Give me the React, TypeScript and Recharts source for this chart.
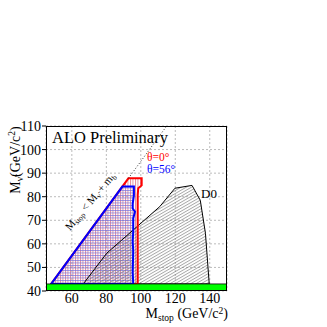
import React from "react";
import {
  ComposedChart,
  XAxis,
  YAxis,
  CartesianGrid,
  Scatter,
  Customized,
} from "recharts";

// axis ticks (GeV/c^2)
const xTicks = [60, 80, 100, 120, 140];
const yTicks = [40, 50, 60, 70, 80, 90, 100, 110];

// excluded regions, points are [M_stop, M_sneutrino]
const theta0Region: [number, number][] = [
  [48, 43], [92.8, 87.8], [100.5, 87.8], [100.5, 84.8],
  [98.5, 83.6], [98.2, 80.7], [98.2, 43],
];
const theta56Region: [number, number][] = [
  [48, 43], [89.3, 84.3], [96, 84.3], [96, 80.7], [95.3, 77],
  [95.3, 75], [96.6, 73.6], [95.6, 70.8], [95.6, 65], [95.3, 61],
  [95.6, 57], [95.3, 48], [95.6, 43],
];
const d0Region: [number, number][] = [
  [66.6, 43], [80.2, 56], [111, 75.8], [119.8, 83.6], [129.7, 84.8],
  [134.5, 78.5], [137.5, 64.5], [139.7, 43],
];
// M_stop = M_snu + m_b
const kinematicLimit: [number, number][] = [[92.8, 87.8], [115, 110]];
const lepBand: [number, number][] = [[45, 40], [150, 40], [150, 43], [45, 43]];
const frame: [number, number][] = [[45, 40], [150, 40], [150, 110], [45, 110]];

const serif = "'Liberation Serif', 'Times New Roman', serif";

const toPoints = (pts: [number, number][]) => pts.map(([x, y]) => ({ x, y }));

const poly =
  (fill: string, stroke: string, strokeWidth: number, closed = true, dash?: string) =>
  (props: any) => {
    const pts: { x: number; y: number }[] = props.points || [];
    const d =
      pts.map((p, i) => `${i ? "L" : "M"}${p.x},${p.y}`).join("") + (closed ? "Z" : "");
    return (
      <path
        d={d}
        fill={fill}
        stroke={stroke}
        strokeWidth={strokeWidth}
        strokeDasharray={dash}
        strokeLinejoin="miter"
      />
    );
  };

const noDot = () => <g />;

const Overlay = () => (
  <g fontFamily={serif}>
    <defs>
      <pattern id="redVert" width="2.5" height="2.5" patternUnits="userSpaceOnUse">
        <line x1="0.5" y1="0" x2="0.5" y2="2.5" stroke="#e06070" strokeWidth="0.7" />
      </pattern>
      <pattern id="blueHoriz" width="2.5" height="2.5" patternUnits="userSpaceOnUse">
        <line x1="0" y1="0.5" x2="2.5" y2="0.5" stroke="#7070e0" strokeWidth="0.7" />
      </pattern>
      <pattern
        id="d0Hatch"
        width="2.6"
        height="2.6"
        patternUnits="userSpaceOnUse"
        patternTransform="rotate(-30)"
      >
        <line x1="0" y1="0.5" x2="2.6" y2="0.5" stroke="#777" strokeWidth="0.6" />
      </pattern>
    </defs>
    <text x={52} y={143} fontSize={16.5}>ALO Preliminary</text>
    <text x={147} y={161} fontSize={11.5} fill="#ff0000">θ=0°</text>
    <text x={147} y={172.5} fontSize={11.5} fill="#0000ff">θ=56°</text>
    <text x={201} y={198} fontSize={13}>D0</text>
    <text transform="translate(70,231) rotate(-50)" fontSize={11}>
      M<tspan fontSize={7.5} dy={2}>stop</tspan>
      <tspan dy={-2}> &lt; M</tspan>
      <tspan fontSize={7.5} dy={2}>ν̃</tspan>
      <tspan dy={-2}> + m</tspan>
      <tspan fontSize={7.5} dy={2}>b</tspan>
    </text>
    <text transform="translate(20,160) rotate(-90)" fontSize={14} textAnchor="middle">
      M<tspan fontSize={9.5} dy={3}>ν̃</tspan>
      <tspan dy={-3}>(GeV/c</tspan>
      <tspan fontSize={9.5} dy={-5}>2</tspan>
      <tspan dy={5}>)</tspan>
    </text>
    <text x={228} y={318} fontSize={14} textAnchor="end">
      M<tspan fontSize={9.5} dy={3}>stop</tspan>
      <tspan dy={-3}> (GeV/c</tspan>
      <tspan fontSize={9.5} dy={-4}>2</tspan>
      <tspan dy={4}>)</tspan>
    </text>
  </g>
);

export default function App() {
  return (
    <div style={{ position: "absolute", left: 0, top: 0, background: "#fff" }}>
      <ComposedChart
        width={327}
        height={327}
        margin={{ top: 126, right: 100, bottom: 6, left: 6 }}
      >
        <CartesianGrid stroke="#bbb" strokeDasharray="2 2" />
        <XAxis
          type="number"
          dataKey="x"
          domain={[45, 150]}
          ticks={xTicks}
          allowDataOverflow
          axisLine={false}
          tickLine={false}
          tickSize={0}
          tickMargin={2}
          height={30}
          tick={{ fontFamily: serif, fontSize: 14, fill: "#000" }}
        />
        <YAxis
          type="number"
          dataKey="y"
          domain={[40, 110]}
          ticks={yTicks}
          allowDataOverflow
          axisLine={false}
          tickLine={{ stroke: "#000" }}
          tickSize={4}
          tickMargin={1}
          width={40}
          tick={{ fontFamily: serif, fontSize: 14, fill: "#000" }}
        />
        <Scatter data={toPoints(theta0Region)} shape={noDot} line={poly("url(#redVert)", "none", 0)} isAnimationActive={false} />
        <Scatter data={toPoints(theta56Region)} shape={noDot} line={poly("url(#blueHoriz)", "none", 0)} isAnimationActive={false} />
        <Scatter data={toPoints(d0Region)} shape={noDot} line={poly("url(#d0Hatch)", "#000", 1)} isAnimationActive={false} />
        <Scatter data={toPoints(theta0Region)} shape={noDot} line={poly("none", "#ff0000", 2)} isAnimationActive={false} />
        <Scatter data={toPoints(theta56Region)} shape={noDot} line={poly("none", "#0000ff", 2)} isAnimationActive={false} />
        <Scatter data={toPoints(kinematicLimit)} shape={noDot} line={poly("none", "#000", 0.8, false, "1 2")} isAnimationActive={false} />
        <Scatter data={toPoints(lepBand)} shape={noDot} line={poly("#00ff00", "#000", 0.8)} isAnimationActive={false} />
        <Scatter data={toPoints(frame)} shape={noDot} line={poly("none", "#000", 2)} isAnimationActive={false} />
        <Customized component={Overlay} />
      </ComposedChart>
    </div>
  );
}
